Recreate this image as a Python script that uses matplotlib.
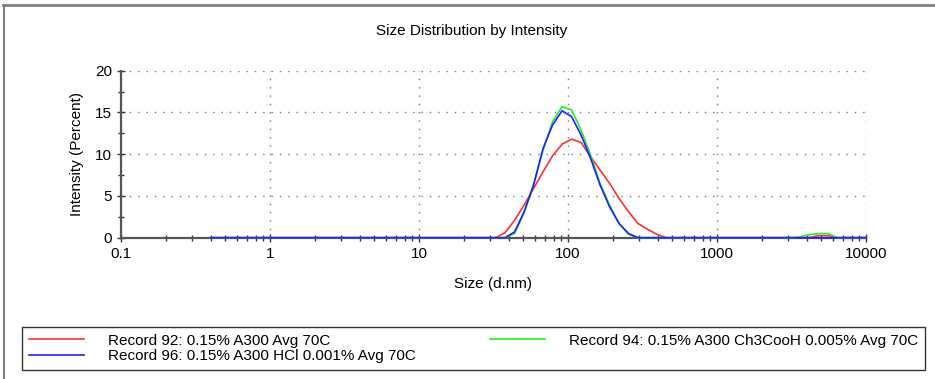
import matplotlib

matplotlib.use("Agg")

import matplotlib.pyplot as plt
from matplotlib.lines import Line2D
from matplotlib.ticker import FixedLocator, FixedFormatter, LogLocator, MultipleLocator


OUTPUT_FILE = "out.png"

# Size bins (d.nm); zero outside the shown range
SIZES = [
    0.4, 24.36, 28.21, 32.67, 37.84, 43.82, 50.75, 58.77, 68.06, 78.82,
    91.28, 105.7, 122.4, 141.8, 164.2, 190.1, 220.2, 255.0, 295.3, 342.0,
    396.1, 458.7, 531.2, 3091, 3580, 4145, 4801, 5560, 6439, 7456, 10000,
]

RECORD_92 = [
    0, 0, 0, 0, 0.6, 2.1, 3.9, 5.9, 7.9, 9.8,
    11.2, 11.8, 11.4, 9.7, 8.1, 6.5, 4.7, 3.1, 1.7, 1.0,
    0.4, 0, 0, 0, 0, 0, 0.25, 0.25, 0, 0, 0,
]

RECORD_94 = [
    0, 0, 0, 0, 0, 0.5, 3.0, 6.4, 10.5, 13.9,
    15.7, 15.3, 12.9, 9.9, 6.5, 3.9, 1.7, 0.4, 0, 0,
    0, 0, 0, 0, 0.1, 0.35, 0.5, 0.5, 0, 0, 0,
]

RECORD_96 = [
    0, 0, 0, 0, 0, 0.7, 3.1, 6.3, 10.7, 13.5,
    15.2, 14.5, 12.3, 9.5, 6.3, 3.7, 1.7, 0.5, 0, 0,
    0, 0, 0, 0, 0, 0, 0, 0, 0, 0, 0,
]

LABELS = [
    "Record 92: 0.15% A300 Avg 70C",
    "Record 94: 0.15% A300 Ch3CooH 0.005% Avg 70C",
    "Record 96: 0.15% A300 HCl 0.001% Avg 70C",
]

X_TICKS = [0.1, 1, 10, 100, 1000, 10000]
X_TICK_LABELS = ["0.1", "1", "10", "100", "1000", "10000"]
Y_TICKS = [0, 5, 10, 15, 20]

plt.rcParams["font.family"] = ["Liberation Sans", "DejaVu Sans"]
plt.rcParams["font.size"] = 11

fig = plt.figure(figsize=(9.35, 3.79), dpi=100)
ax = fig.add_axes([0.1294, 0.3728, 0.7968, 0.4407])

red, = ax.plot(SIZES, RECORD_92, color="#ff3030", linewidth=1.2, label=LABELS[0])
green, = ax.plot(SIZES, RECORD_94, color="#22ee22", linewidth=1.2, label=LABELS[1])
blue, = ax.plot(SIZES, RECORD_96, color="#2020ff", linewidth=1.2, label=LABELS[2])
for line in (red, green, blue):
    line.set_clip_on(False)
    line.set_zorder(3)

ax.set_xscale("log")
ax.set_xlim(0.1, 10000)
ax.set_ylim(0, 20)

ax.xaxis.set_major_locator(FixedLocator(X_TICKS))
ax.xaxis.set_major_formatter(FixedFormatter(X_TICK_LABELS))
ax.xaxis.set_minor_locator(LogLocator(base=10, subs=range(2, 10)))
ax.yaxis.set_major_locator(FixedLocator(Y_TICKS))
ax.yaxis.set_minor_locator(MultipleLocator(2.5))

ax.tick_params(which="both", direction="inout", color="#333333", labelsize=11)
ax.tick_params(which="major", length=6, width=1)
ax.tick_params(which="minor", length=5, width=1)
ax.tick_params(axis="x", which="minor", labelbottom=False)

ax.grid(which="major", color="#777777", linestyle=(0, (1, 5)), linewidth=1)
ax.set_axisbelow(True)

for side in ("top", "right"):
    ax.spines[side].set_visible(False)
for side in ("left", "bottom"):
    ax.spines[side].set_color("#555555")
    ax.spines[side].set_linewidth(1.6)

ax.set_xlabel("Size (d.nm)", fontsize=11, labelpad=12)
ax.set_ylabel("Intensity (Percent)", fontsize=11, labelpad=8)

fig.text(0.504, 0.919, "Size Distribution by Intensity", ha="center", va="center", fontsize=11)

# outer frame, top and left edges only
fig.add_artist(Line2D([0.003, 1.0], [0.987, 0.987], color="#808080", linewidth=2, transform=fig.transFigure))
fig.add_artist(Line2D([0.0045, 0.0045], [0.0, 0.987], color="#808080", linewidth=1.5, transform=fig.transFigure))

fig.legend(
    handles=[red, blue, green],
    loc="lower left",
    bbox_to_anchor=(0.0235, 0.0237, 0.966, 0.108),
    mode="expand",
    ncol=2,
    fontsize=11,
    frameon=True,
    fancybox=False,
    edgecolor="#333333",
    framealpha=1,
    handlelength=3.6,
    handletextpad=1.6,
    labelspacing=0.1,
    borderpad=0.45,
    borderaxespad=0,
)

fig.savefig(OUTPUT_FILE, dpi=100)
plt.close(fig)
